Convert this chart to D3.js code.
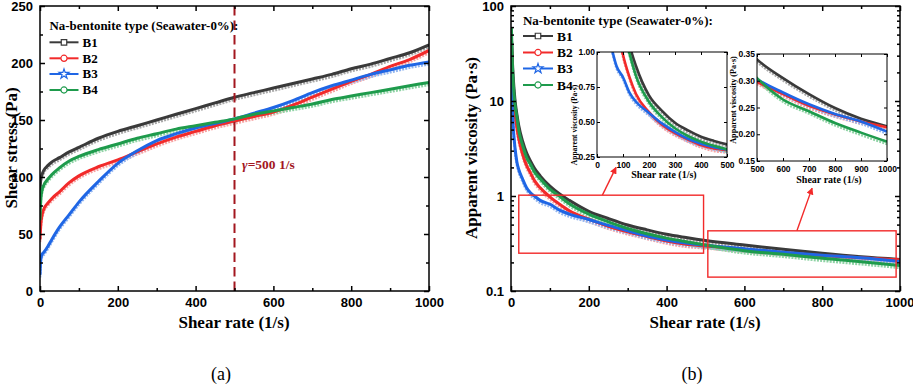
<!DOCTYPE html>
<html>
<head>
<meta charset="utf-8">
<script src="https://cdn.jsdelivr.net/npm/d3@7"></script>
<style>
  body { margin: 0; background: #fff; }
  svg { display: block; font-family: "Liberation Serif", "Times New Roman", serif; }
  .tick text { font-weight: bold; }
</style>
</head>
<body>
<svg id="chart" width="913" height="384"></svg>
<script>
// series names + colours
const seriesNames = ["B1", "B2", "B3", "B4"];
const seriesColors = ["#3a3a3a", "#f22a2a", "#1f66e5", "#1e9b4c"];
const seriesLight = ["#a8a8a8", "#f7a3a3", "#93b6ef", "#8fd3a5"];

// (a) shear stress (Pa) vs shear rate (1/s)
const rateA = [0, 2, 5, 10, 20, 30, 50, 75, 100, 150, 200, 250, 300, 350, 400, 450, 500, 550, 600, 650, 700, 750, 800, 850, 900, 950, 1000];
const stressB1 = [88, 98, 102, 106, 110, 113, 117, 122, 126, 134, 140, 145, 150, 155, 160, 165, 170, 174, 178, 182, 186, 190, 195, 199, 204, 209, 216];
const stressB2 = [45, 58, 66, 72, 77, 81, 87, 95, 101, 109, 115, 122, 129, 135, 140, 145, 149, 153, 157, 163, 170, 177, 184, 190, 197, 203, 211];
const stressB3 = [14, 28, 32, 34, 39, 45, 56, 67, 78, 96, 112, 123, 132, 138, 143, 147, 151, 156, 161, 167, 174, 180, 185, 190, 194, 198, 201];
const stressB4 = [62, 80, 88, 93, 98, 102, 108, 114, 118, 124, 129, 134, 138, 142, 145, 148, 151, 155, 158, 161, 164, 168, 171, 174, 177, 180, 183];

// (b) apparent viscosity (Pa·s) vs shear rate (1/s)
const rateB = [1, 2, 4, 6, 10, 15, 20, 30, 40, 50, 60, 75, 100, 125, 150, 200, 250, 300, 350, 400, 450, 500, 600, 700, 800, 900, 1000];
const viscB1 = [45, 40, 24, 17, 10.5, 7.3, 5.5, 3.75, 2.85, 2.34, 1.97, 1.63, 1.27, 1.05, 0.90, 0.69, 0.58, 0.495, 0.44, 0.395, 0.365, 0.340, 0.305, 0.275, 0.249, 0.229, 0.215];
const viscB2 = [40, 30, 17, 12, 7.5, 5.3, 4.0, 2.75, 2.1, 1.75, 1.46, 1.22, 0.98, 0.82, 0.70, 0.57, 0.48, 0.42, 0.375, 0.335, 0.31, 0.298, 0.275, 0.253, 0.237, 0.224, 0.213];
const viscB3 = [20, 12, 7.5, 5.2, 3.3, 2.3, 1.9, 1.5, 1.22, 1.08, 1.0, 0.9, 0.82, 0.71, 0.645, 0.565, 0.49, 0.43, 0.38, 0.345, 0.32, 0.303, 0.278, 0.256, 0.238, 0.224, 0.205];
const viscB4 = [60, 42, 22, 15, 9.3, 6.8, 4.9, 3.4, 2.55, 2.16, 1.8, 1.52, 1.18, 0.99, 0.83, 0.645, 0.535, 0.455, 0.40, 0.36, 0.33, 0.305, 0.265, 0.243, 0.221, 0.203, 0.186];

const stressSeries = [stressB1, stressB2, stressB3, stressB4];
const viscSeries = [viscB1, viscB2, viscB3, viscB4];

// tick values
const ticksA_x = [0, 200, 400, 600, 800, 1000];
const ticksA_y = [0, 50, 100, 150, 200, 250];
const ticksB_y = [0.1, 1, 10, 100];
const ticksIn1_x = [0, 100, 200, 300, 400, 500];
const ticksIn1_y = [0.25, 0.5, 0.75, 1.0];
const ticksIn2_x = [500, 600, 700, 800, 900, 1000];
const ticksIn2_y = [0.15, 0.2, 0.25, 0.3, 0.35];

// zoom boxes [x0, x1, yTop, yBottom] and arrows [x0, y0, x1, y1] in panel (b) data units
const zoomBoxes = [[20, 495, 1.02, 0.25], [506, 990, 0.43, 0.14]];
const zoomArrows = [[235, 1.02, 270, 2.0], [735, 0.43, 774, 1.21]];

const svg = d3.select("#chart");
const defs = svg.append("defs");
let clipN = 0;

function frame(g, x, y, o) {
  const w = x.range()[1] - x.range()[0];
  const h = y.range()[0] - y.range()[1];
  const L = x.range()[0], T = y.range()[1], B = y.range()[0], R = x.range()[1];
  g.append("g").attr("transform", `translate(0,${B})`)
    .call(d3.axisBottom(x).tickValues(o.xt).tickSize(-o.tl).tickPadding(o.pad).tickFormat(d3.format("d")));
  g.append("g").attr("transform", `translate(${L},0)`)
    .call(d3.axisLeft(y).tickValues(o.yt).tickSize(-o.tl).tickPadding(o.ypad || o.pad).tickFormat(o.yf));
  g.append("g").attr("transform", `translate(0,${T})`)
    .call(d3.axisTop(x).tickValues(o.xt).tickSize(-o.tl).tickFormat(""));
  g.append("g").attr("transform", `translate(${R},0)`)
    .call(d3.axisRight(y).tickValues(o.yt).tickSize(-o.tl).tickFormat(""));
  if (o.xm) {
    g.append("g").attr("transform", `translate(0,${B})`).call(d3.axisBottom(x).tickValues(o.xm).tickSize(-o.tl * 0.6).tickFormat(""));
    g.append("g").attr("transform", `translate(0,${T})`).call(d3.axisTop(x).tickValues(o.xm).tickSize(-o.tl * 0.6).tickFormat(""));
  }
  if (o.ym) {
    g.append("g").attr("transform", `translate(${L},0)`).call(d3.axisLeft(y).tickValues(o.ym).tickSize(-o.tl * 0.6).tickFormat(""));
    g.append("g").attr("transform", `translate(${R},0)`).call(d3.axisRight(y).tickValues(o.ym).tickSize(-o.tl * 0.6).tickFormat(""));
  }
  g.selectAll(".domain").remove();
  g.selectAll(".tick line").attr("stroke", "#000").attr("stroke-width", o.sw);
  g.selectAll(".tick text").attr("font-size", o.fs).attr("fill", "#000");
  g.append("rect").attr("x", L).attr("y", T).attr("width", w).attr("height", h)
    .attr("fill", "none").attr("stroke", "#000").attr("stroke-width", o.sw);
}

function curves(g, x, y, xs, series, lw) {
  const id = "clip" + (clipN++);
  defs.append("clipPath").attr("id", id).append("rect")
    .attr("x", x.range()[0]).attr("y", y.range()[1])
    .attr("width", x.range()[1] - x.range()[0]).attr("height", y.range()[0] - y.range()[1]);
  const cg = g.append("g").attr("clip-path", `url(#${id})`);
  const line = d3.line().x((d, i) => x(xs[i])).y(d => y(d)).curve(d3.curveMonotoneX);
  series.forEach((s, k) => {
    cg.append("path").attr("d", line(s)).attr("fill", "none")
      .attr("stroke", seriesLight[k]).attr("stroke-width", lw * 0.9)
      .attr("stroke-dasharray", "2,1.2").attr("transform", "translate(0,2.4)");
  });
  series.forEach((s, k) => {
    cg.append("path").attr("d", line(s)).attr("fill", "none")
      .attr("stroke", seriesColors[k]).attr("stroke-width", lw);
  });
}

const symbols = [d3.symbolSquare, d3.symbolCircle, d3.symbolStar, d3.symbolCircle];

function legend(g, x0, yTitle, ys, fsT, titleLen, fsE, lineLen) {
  const t = g.append("text").attr("font-size", fsT).attr("font-weight", "bold")
    .text("Na-bentonite type (Seawater-0%):");
  // the original lettering is wider than Liberation Serif, stretch it sideways
  const sx = titleLen / t.node().getComputedTextLength();
  t.attr("transform", `translate(${x0},${yTitle}) scale(${sx},1)`);
  seriesNames.forEach((n, k) => {
    g.append("line").attr("x1", x0).attr("x2", x0 + lineLen).attr("y1", ys[k]).attr("y2", ys[k])
      .attr("stroke", seriesColors[k]).attr("stroke-width", 2);
    g.append("path").attr("d", d3.symbol(symbols[k], 30)())
      .attr("transform", `translate(${x0 + lineLen / 2},${ys[k]})`)
      .attr("fill", "#fff").attr("stroke", seriesColors[k]).attr("stroke-width", 1.2);
    g.append("text").attr("x", x0 + lineLen + 4).attr("y", ys[k] + fsE * 0.34)
      .attr("font-size", fsE).attr("font-weight", "bold").text(n);
  });
}

// ---------- panel (a)
const gA = svg.append("g");
const xA = d3.scaleLinear().domain([0, 1000]).range([40, 429]);
const yA = d3.scaleLinear().domain([0, 250]).range([291, 6]);
curves(gA, xA, yA, rateA, stressSeries, 3);
gA.append("line").attr("x1", xA(500)).attr("x2", xA(500)).attr("y1", yA(250)).attr("y2", yA(0))
  .attr("stroke", "#a3171f").attr("stroke-width", 2).attr("stroke-dasharray", "9.5,5");
frame(gA, xA, yA, { xt: ticksA_x, yt: ticksA_y, xm: d3.range(100, 1000, 200), ym: d3.range(25, 250, 50),
  tl: 5, pad: 7, fs: 13, sw: 1.5, yf: d3.format("d") });
const gl = gA.append("text").attr("x", 242).attr("y", 169).attr("font-size", 13.5)
  .attr("font-weight", "bold").attr("fill", "#a3171f");
gl.append("tspan").attr("font-style", "italic").text("γ");
gl.append("tspan").text("=500 1/s");
legend(gA, 49.5, 29.5, [42.3, 58.3, 74, 90], 12.5, 189, 13, 29);
gA.append("text").attr("x", 234).attr("y", 328).attr("text-anchor", "middle")
  .attr("font-size", 17).attr("font-weight", "bold").text("Shear rate (1/s)");
gA.append("text").attr("transform", "translate(17,148) rotate(-90)").attr("text-anchor", "middle")
  .attr("font-size", 17).attr("font-weight", "bold").text("Shear stress (Pa)");
gA.append("text").attr("x", 221).attr("y", 380).attr("text-anchor", "middle")
  .attr("font-size", 18).text("(a)");

// ---------- panel (b)
const gB = svg.append("g");
const xB = d3.scaleLinear().domain([0, 1000]).range([511, 900]);
const yB = d3.scaleLog().domain([0.1, 100]).range([291, 6]);
curves(gB, xB, yB, rateB, viscSeries, 3);
const minorLog = yB.ticks().filter(v => !ticksB_y.includes(v));
frame(gB, xB, yB, { xt: ticksA_x, yt: ticksB_y, xm: d3.range(100, 1000, 200), ym: minorLog,
  tl: 5, pad: 7, fs: 13, sw: 1.5, yf: d => d });
// keep the last x label inside the picture
gB.selectAll(".tick text").filter(d => d === 1000).attr("dx", "-0.6");
zoomBoxes.forEach(b => {
  gB.append("rect").attr("x", xB(b[0])).attr("y", yB(b[2]))
    .attr("width", xB(b[1]) - xB(b[0])).attr("height", yB(b[3]) - yB(b[2]))
    .attr("fill", "none").attr("stroke", "#f22a2a").attr("stroke-width", 1.4);
});
defs.append("marker").attr("id", "arrow").attr("viewBox", "0 0 10 10").attr("refX", 9).attr("refY", 5)
  .attr("markerWidth", 5).attr("markerHeight", 5).attr("orient", "auto")
  .append("path").attr("d", "M0,0L10,5L0,10z").attr("fill", "#f22a2a");
zoomArrows.forEach(a => {
  gB.append("line").attr("x1", xB(a[0])).attr("y1", yB(a[1])).attr("x2", xB(a[2])).attr("y2", yB(a[3]))
    .attr("stroke", "#f22a2a").attr("stroke-width", 1.4).attr("marker-end", "url(#arrow)");
});
legend(gB, 523, 24.5, [36, 52.5, 68.5, 85], 13, 190, 13.5, 30);
gB.append("text").attr("x", 705).attr("y", 328).attr("text-anchor", "middle")
  .attr("font-size", 17).attr("font-weight", "bold").text("Shear rate (1/s)");
gB.append("text").attr("transform", "translate(477,148) rotate(-90)").attr("text-anchor", "middle")
  .attr("font-size", 17).attr("font-weight", "bold").text("Apparent viscosity (Pa·s)");
gB.append("text").attr("x", 692).attr("y", 380).attr("text-anchor", "middle")
  .attr("font-size", 18).text("(b)");

// ---------- insets
function inset(xd, yd, xr, yr, xt, yt, fs, ylab, xlab) {
  const g = svg.append("g");
  const x = d3.scaleLinear().domain(xd).range(xr);
  const y = d3.scaleLinear().domain(yd).range(yr);
  g.append("rect").attr("x", xr[0]).attr("y", yr[1]).attr("width", xr[1] - xr[0]).attr("height", yr[0] - yr[1]).attr("fill", "#fff");
  curves(g, x, y, rateB, viscSeries, 2.6);
  frame(g, x, y, { xt: xt, yt: yt, tl: 3, pad: 5, ypad: 2, fs: fs, sw: 1, yf: d3.format(".2f") });
  g.append("text").attr("transform", `translate(${ylab[0]},${ylab[1]}) rotate(-90)`).attr("text-anchor", "middle")
    .attr("font-size", ylab[2]).attr("font-weight", "bold").text("Apparent viscosity (Pa·s)");
  g.append("text").attr("x", xlab[0]).attr("y", xlab[1]).attr("text-anchor", "middle")
    .attr("font-size", xlab[2]).attr("font-weight", "bold").text("Shear rate (1/s)");
}
inset([0, 500], [0.25, 1.0], [597, 727], [157, 52], ticksIn1_x, ticksIn1_y, 8.5,
  [576.5, 125, 7.5], [664, 178, 10]);
inset([500, 1000], [0.15, 0.35], [757, 887], [161, 54], ticksIn2_x, ticksIn2_y, 8.5,
  [736, 100, 8.2], [829, 183, 10]);
</script>
</body>
</html>
